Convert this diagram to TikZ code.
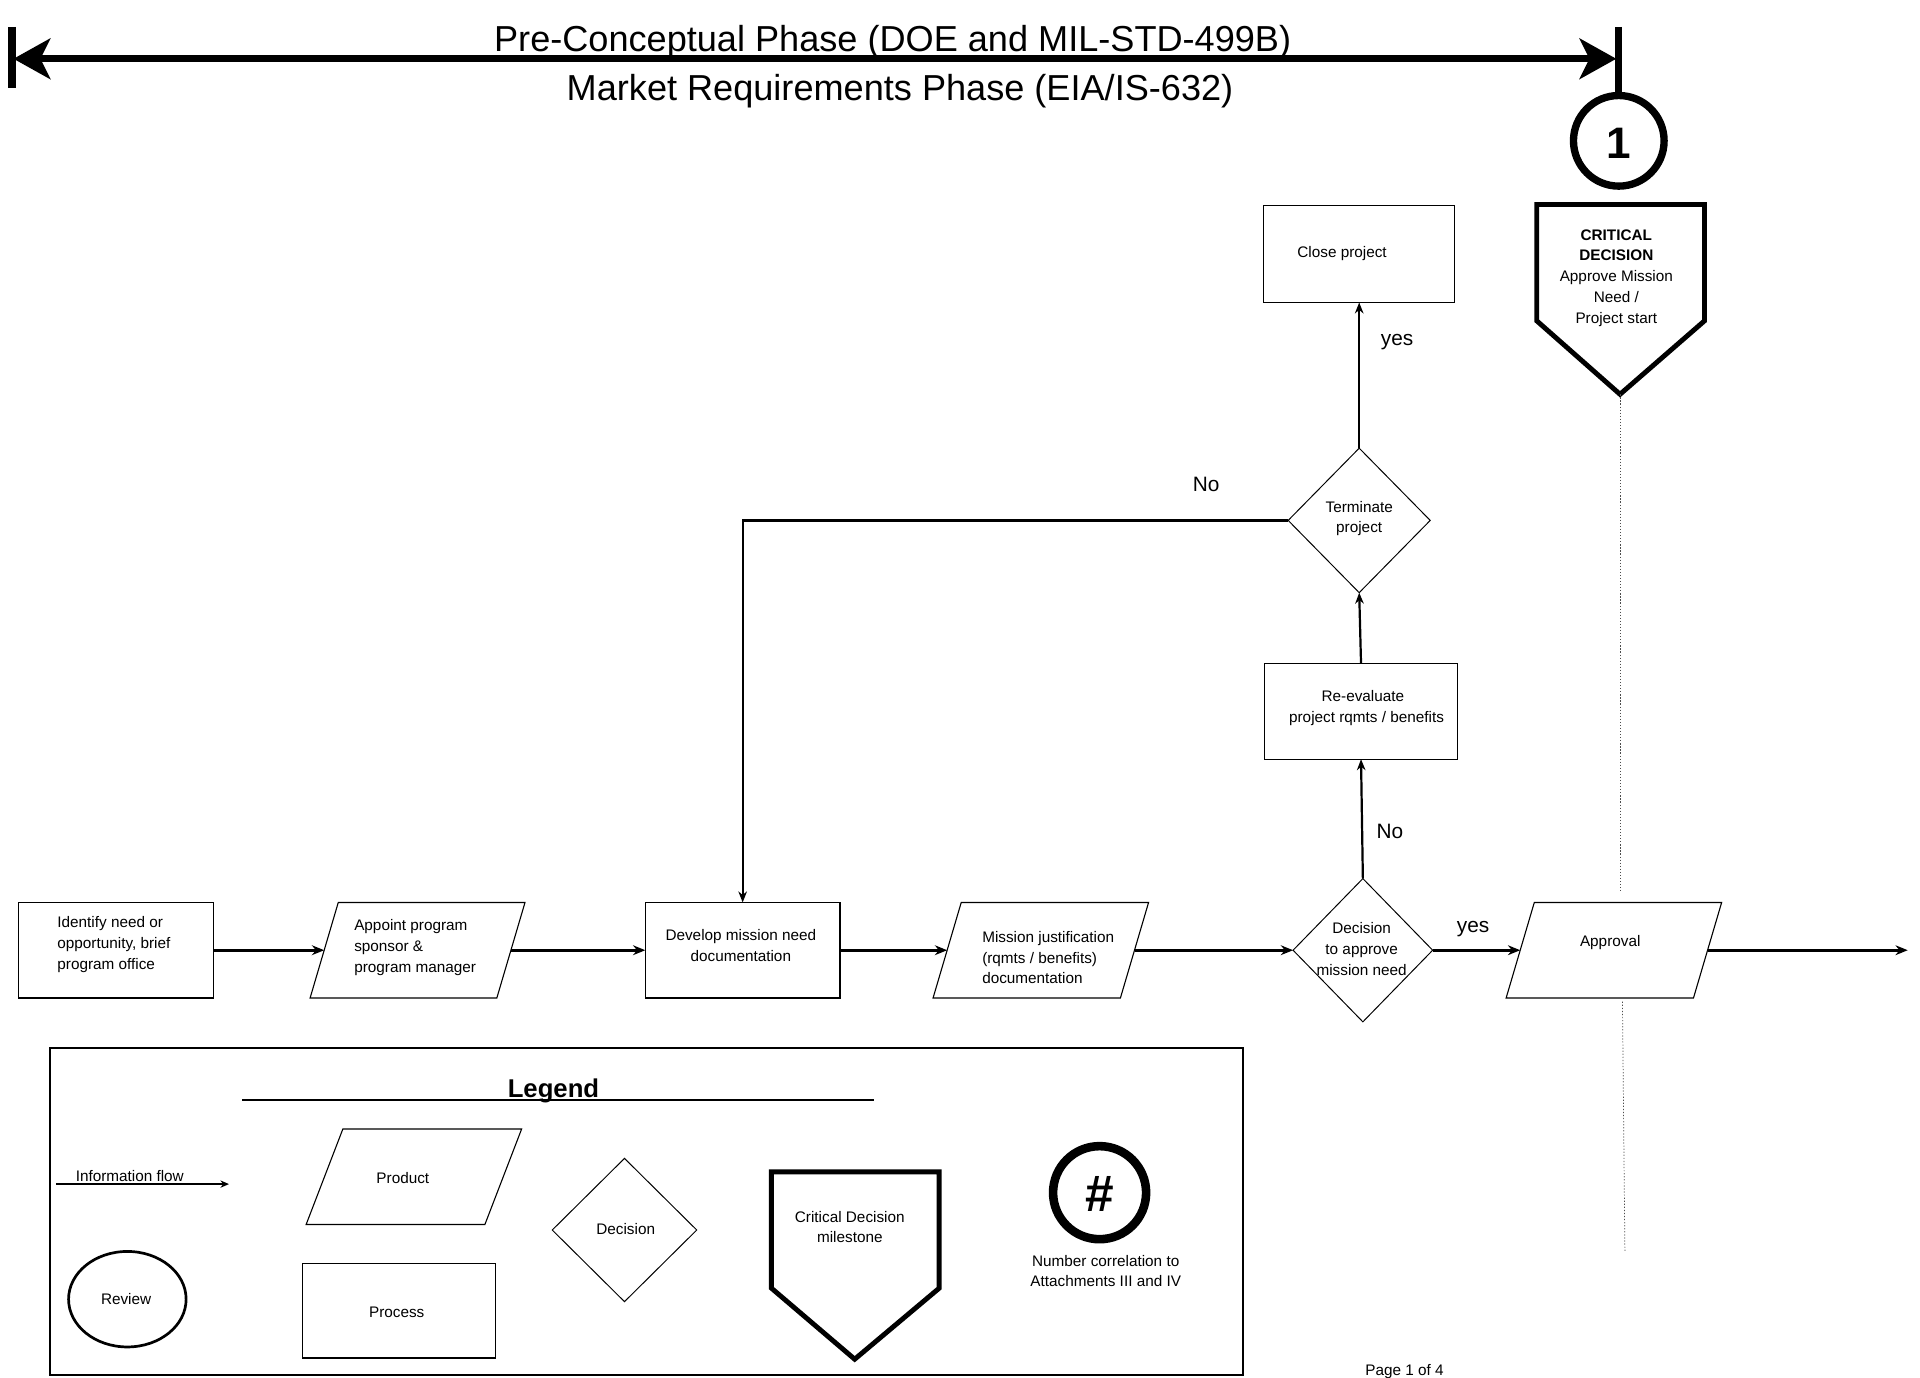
\documentclass[tikz,border=0pt]{standalone}
\usepackage{fontspec}
\setmainfont{Liberation Sans}
\usetikzlibrary{shapes.geometric,arrows.meta}
\begin{document}
\begin{tikzpicture}[x=1pt,y=-1pt,
  every node/.style={font=\fontsize{12.5}{17}\selectfont, inner sep=0pt, outer sep=0pt},
  procbox/.style={draw, line width=0.9pt, minimum height=78pt},
  hiddenbox/.style={minimum height=78pt},
  parashape/.style={line width=0.9pt, line join=miter},
  dia/.style={draw, diamond, line width=0.8pt},
  flow/.style={-{Stealth[length=10pt,width=8pt]}, line width=2.2pt},
  flowb/.style={-{Stealth[length=9pt,width=7pt]}, line width=1.8pt},
  plainline/.style={line width=1.8pt},
  lbl/.style={font=\fontsize{17}{20}\selectfont},
  ttl/.style={font=\fontsize{29.5}{34}\selectfont},
  cdshape/.style={line width=4pt, line join=miter},
  dotline/.style={line width=0.6pt, dash pattern=on 1pt off 1.5pt, black!70},
  txtl/.style={align=left},
  txtc/.style={align=center}
]
\useasboundingbox (0,0) rectangle (1568,1125);
\fill[white] (0,0) rectangle (1568,1125);

% ---------- top phase bar ----------
\coordinate (lbt) at (10,22);
\coordinate (lbb) at (10,72);
\coordinate (la) at (11,48);
\coordinate (ra) at (1320,48);
\coordinate (rbt) at (1322,22);
\draw[line width=6.5pt] (lbt) -- (lbb);
\draw[line width=6pt, {Stealth[length=30pt,width=33pt,inset=8pt]}-{Stealth[length=30pt,width=33pt,inset=8pt]}] (la) -- (ra);
\node[ttl, anchor=base] (t1) at (729,42) {Pre-Conceptual Phase (DOE and MIL-STD-499B)};
\node[ttl, anchor=base] (t2) at (735,82) {Market Requirements Phase (EIA/IS-632)};

% ---------- milestone 1 ----------
\node[circle, draw, line width=6pt, minimum size=74pt] (c1) at (1322,115) {};
\node[font=\fontsize{36}{40}\selectfont\bfseries] (c1t) at (1322,117) {1};
\draw[line width=6pt] (rbt) -- (c1.north);

\coordinate (cd1) at (1255,167);
\coordinate (cd2) at (1392,167);
\coordinate (cd3) at (1392,262);
\coordinate (cdtip) at (1323,322);
\coordinate (cd5) at (1255,262);
\draw[cdshape] (cd1) -- (cd2) -- (cd3) -- (cdtip) -- (cd5) -- cycle;
\node[txtc] (cdt) at (1320,227) {\textbf{CRITICAL}\\\textbf{DECISION}\\Approve Mission\\Need /\\Project start};

% ---------- main row ----------
\node[procbox, minimum width=159pt] (ident) at (94.5,776) {};
\node[txtl] (identt) at (93,771.5) {Identify need or\\opportunity, brief\\program office};

\node[hiddenbox, minimum width=152.5pt] (appt) at (341,776) {};
\draw[parashape] ([xshift=11.5pt]appt.north west) -- ([xshift=11.5pt]appt.north east) -- ([xshift=-11.5pt]appt.south east) -- ([xshift=-11.5pt]appt.south west) -- cycle;
\node[txtl] (apptt) at (339,774) {Appoint program\\sponsor \&\\program manager};

\node[procbox, minimum width=159pt] (dev) at (606.5,776) {};
\node[txtc] (devt) at (605,772) {Develop mission need\\documentation};

\node[hiddenbox, minimum width=153pt] (mis) at (850,776) {};
\draw[parashape] ([xshift=11.5pt]mis.north west) -- ([xshift=11.5pt]mis.north east) -- ([xshift=-11.5pt]mis.south east) -- ([xshift=-11.5pt]mis.south west) -- cycle;
\node[txtl] (mist) at (856,782) {Mission justification\\(rqmts / benefits)\\documentation};

\node[dia, minimum width=114pt, minimum height=117pt] (dec) at (1113,776) {};
\node[txtc] (dect) at (1112,775) {Decision\\to approve\\mission need};

\node[hiddenbox, minimum width=153pt] (appr) at (1318,776) {};
\draw[parashape] ([xshift=11.5pt]appr.north west) -- ([xshift=11.5pt]appr.north east) -- ([xshift=-11.5pt]appr.south east) -- ([xshift=-11.5pt]appr.south west) -- cycle;
\node (apprt) at (1315,770) {Approval};
\coordinate (endc) at (1558,776);

% ---------- upper loop ----------
\node[procbox, minimum width=157pt] (reev) at (1111.5,581) {};
\node[txtc] (reevt) at (1113,578) {Re-evaluate\\\hspace*{6pt}project rqmts / benefits};

\node[dia, minimum width=116pt, minimum height=118pt] (term) at (1110,425) {};
\node[txtc] (termt) at (1110,423.5) {Terminate\\project};

\node[procbox, minimum width=156pt, minimum height=79pt] (close) at (1110,207.5) {};
\node (closet) at (1096,207) {Close project};

% ---------- connectors ----------
\draw[flow] (ident.east) -- (appt.west);
\draw[flow] (appt.east) -- (dev.west);
\draw[flow] (dev.east) -- (mis.west);
\draw[flow] (mis.east) -- (dec.west);
\draw[flow] (dec.east) -- (appr.west);
\draw[flow] (appr.east) -- (endc);
\draw[flowb] (dec.north) -- (reev.south);
\draw[flowb] (reev.north) -- (term.south);
\draw[flowb] (term.north) -- (close.south);
\draw[flowb] (term.west) -| (dev.north);

\node[lbl] (yes1) at (1203,759) {yes};
\node[lbl] (no1) at (1135,679) {No};
\node[lbl] (yes2) at (1141,279) {yes};
\node[lbl] (no2) at (985,396) {No};

% ---------- dotted milestone line ----------
\coordinate (dA) at (1323,728);
\coordinate (dB) at (1325,818);
\coordinate (dC) at (1327,1022);
\draw[dotline] (cdtip) -- (dA);
\draw[dotline] (dB) -- (dC);

% ---------- legend ----------
\node[draw, line width=2pt, minimum width=974pt, minimum height=267pt] (legend) at (528,989.5) {};
\coordinate (ul1) at (198,898);
\coordinate (ul2) at (714,898);
\draw[line width=1.8pt] (ul1) -- (ul2);
\node[font=\fontsize{21}{24}\selectfont\bfseries, anchor=base] (legt) at (452,896) {Legend};

\node (inft) at (106,960) {Information flow};
\coordinate (if1) at (46,967);
\coordinate (if2) at (187,967);
\draw[-{Stealth[length=7pt,width=6pt]}, line width=1.8pt] (if1) -- (if2);

\node[hiddenbox, minimum width=146pt] (prod) at (338,961) {};
\draw[parashape] ([xshift=15pt]prod.north west) -- ([xshift=15pt]prod.north east) -- ([xshift=-15pt]prod.south east) -- ([xshift=-15pt]prod.south west) -- cycle;
\node (prodt) at (329,962) {Product};

\node[procbox, minimum width=158pt, minimum height=77pt] (proc) at (326,1070.5) {};
\node (proct) at (324,1072) {Process};

\node[ellipse, draw, line width=2.2pt, minimum width=96pt, minimum height=78pt] (rev) at (104,1061) {};
\node (revt) at (103,1061) {Review};

\node[dia, minimum width=118pt, minimum height=117pt] (ldec) at (510,1004.5) {};
\node (ldect) at (511,1004) {Decision};

\coordinate (lc1) at (630,957);
\coordinate (lc2) at (767,957);
\coordinate (lc3) at (767,1052);
\coordinate (lctip) at (698,1110);
\coordinate (lc5) at (630,1052);
\draw[cdshape] (lc1) -- (lc2) -- (lc3) -- (lctip) -- (lc5) -- cycle;
\node[txtc] (lcdt) at (694,1002) {Critical Decision\\milestone};

\node[circle, draw, line width=7pt, minimum size=76pt] (hc) at (898,974) {};
\node[font=\fontsize{42}{46}\selectfont\bfseries] (hct) at (898,975) {\#};
\node[txtc] (numt) at (903,1038) {Number correlation to\\Attachments III and IV};

\node[anchor=base west] (page) at (1115,1123) {Page 1 of 4};
\end{tikzpicture}
\end{document}
